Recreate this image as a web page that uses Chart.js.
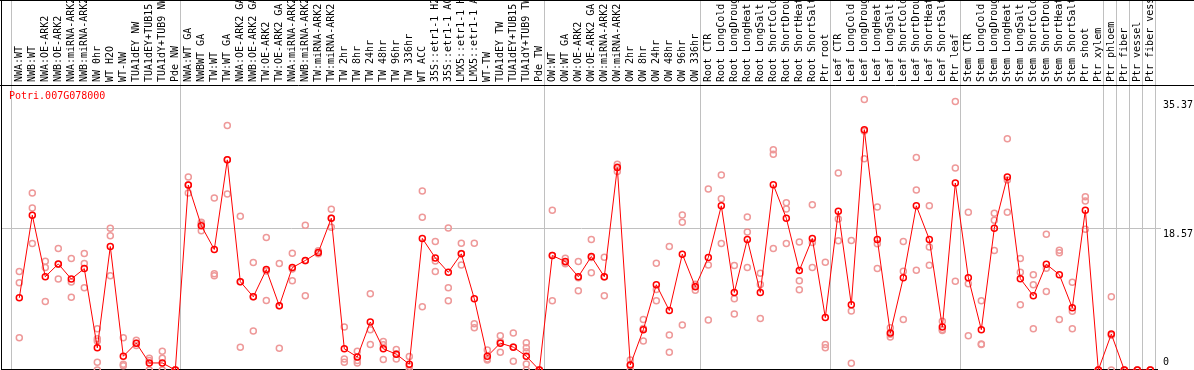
<!DOCTYPE html>
<html>
<head>
<meta charset="utf-8">
<script src="https://cdn.jsdelivr.net/npm/chart.js@4.4.1/dist/chart.umd.min.js"></script>
<style>
  html, body { margin: 0; padding: 0; background: #fff; }
  #wrap { width: 1194px; height: 370px; }
</style>
</head>
<body>
<div id="wrap"><canvas id="myChart" width="1194" height="370"></canvas></div>
<script>
// gene shown in the panel
let geneName = 'Potri.007G078000';

// sample names, left to right
let categories = [
  'NWA:WT', 'NWB:WT', 'NWA:OE-ARK2', 'NWB:OE-ARK2', 'NWA:miRNA-ARK2', 'NWB:miRNA-ARK2',
  'NW 0hr', 'WT H2O', 'WT-NW', 'TUA1dEY NW', 'TUA1dEY+TUB15 NW', 'TUA1dY+TUB9 NW', 'Pde NW',
  'NWA:WT GA', 'NWBWT GA', 'TW:WT', 'TW:WT GA', 'NWA:OE-ARK2 GA', 'NWB:OE-ARK2 GA',
  'TW:OE-ARK2', 'TW:OE-ARK2 GA', 'NWA:miRNA-ARK2', 'NWB:miRNA-ARK2', 'TW:miRNA-ARK2', 'TW:miRNA-ARK2',
  'TW 2hr', 'TW 8hr', 'TW 24hr', 'TW 48hr', 'TW 96hr', 'TW 336hr', 'WT ACC',
  '35S::etr1-1 H2O', '35S::etr1-1 ACC', 'LMX5::etr1-1 H2O', 'LMX5::etr1-1 ACC',
  'WT-TW', 'TUA1dEY TW', 'TUA1dEY+TUB15 TW', 'TUA1dY+TUB9 TW', 'Pde TW',
  'OW:WT', 'OW:WT GA', 'OW:OE-ARK2', 'OW:OE-ARK2 GA', 'OW:miRNA-ARK2', 'OW:miRNA-ARK2',
  'OW 2hr', 'OW 8hr', 'OW 24hr', 'OW 48hr', 'OW 96hr', 'OW 336hr',
  'Root CTR', 'Root LongCold', 'Root LongDrought', 'Root LongHeat', 'Root LongSalt',
  'Root ShortCold', 'Root ShortDrought', 'Root ShortHeat', 'Root ShortSalt', 'Ptr root',
  'Leaf CTR', 'Leaf LongCold', 'Leaf LongDrought', 'Leaf LongHeat', 'Leaf LongSalt',
  'Leaf ShortCold', 'Leaf ShortDrought', 'Leaf ShortHeat', 'Leaf ShortSalt', 'Ptr leaf',
  'Stem CTR', 'Stem LongCold', 'Stem LongDrought', 'Stem LongHeat', 'Stem LongSalt',
  'Stem ShortCold', 'Stem ShortDrought', 'Stem ShortHeat', 'Stem ShortSalt', 'Ptr shoot',
  'Ptr xylem', 'Ptr phloem', 'Ptr fiber', 'Ptr vessel', 'Ptr fiber vessel'
];

// mean expression per sample (red line)
let means = [
  9.44, 20.24, 12.2, 13.87, 11.9, 13.26, 2.9, 16.15, 1.8, 3.51, 0.92, 0.92, 0,
  24.19, 18.87, 15.76, 27.48, 11.55, 9.57, 13.13, 8.39, 13.39, 14.32, 15.37, 19.85,
  2.77, 1.71, 6.28, 2.77, 2.07, 0.75, 17.21, 14.66, 12.77, 15.19, 9.31, 1.8, 3.51, 2.99, 1.8, 0,
  14.97, 14.18, 12.2, 14.84, 12.2, 26.47, 0.66, 5.27, 11.15, 7.77, 15.15, 10.89,
  14.71, 21.47, 10.14, 17.08, 10.14, 24.23, 19.85, 13.0, 17.21, 6.85,
  20.77, 8.52, 31.43, 17.08, 4.83, 12.07, 21.47, 17.08, 5.62, 24.45,
  12.07, 5.27, 18.53, 25.25, 11.94, 9.7, 13.83, 12.47, 8.13, 20.9,
  0, 4.7, 0, 0, 0
];

// individual replicates per sample (pink circles)
let replicates = [
  [12.87, 11.42, 4.21], [23.14, 21.2, 16.55], [14.22, 13.39, 8.96], [15.89, 13.82, 11.9],
  [14.58, 11.5, 9.53], [15.24, 13.92, 10.76], [5.4, 4.08, 3.78, 1.01, 0], [18.53, 17.56, 12.34],
  [4.21, 0.75, 0.57], [3.9, 3.5, 3.2], [1.54, 1.23, 0], [2.46, 1.54, 0], [0, 0, 0],
  [25.25, 24.18, 23.14], [19.32, 19.1, 18.2], [22.48, 12.6, 12.34], [31.96, 27.48, 23.0],
  [20.11, 11.55, 2.99], [14.05, 9.57, 5.09], [17.34, 12.96, 9.09], [13.92, 8.39, 2.86],
  [15.28, 13.2, 11.68], [18.92, 14.3, 9.7], [15.6, 15.3, 15.2], [21.03, 19.86, 18.66],
  [5.62, 1.45, 1.01], [2.46, 1.23, 0.92], [9.97, 5.27, 3.34], [3.73, 3.3, 1.36],
  [2.68, 2.1, 1.45], [1.76, 0.5, 0], [23.4, 19.98, 8.26], [16.82, 14.27, 12.87],
  [18.57, 10.76, 9.05], [16.59, 15.24, 13.74], [16.59, 6.06, 5.53], [2.63, 1.45, 1.32],
  [4.48, 3.7, 2.33], [4.83, 3.0, 1.14], [3.56, 2.9, 2.4, 0.8, 0], [0, 0, 0],
  [20.9, 14.96, 9.05], [14.6, 14.0, 13.9], [14.18, 12.07, 10.36], [17.08, 14.7, 12.73],
  [14.75, 12.15, 9.7], [26.9, 26.56, 25.95], [1.32, 0.66, 0], [6.59, 5.44, 3.78],
  [13.96, 10.54, 9.05], [16.16, 4.57, 2.33], [20.28, 19.32, 5.89], [11.23, 11.0, 10.44],
  [23.67, 13.74, 6.54], [25.51, 22.39, 16.55], [13.65, 9.31, 7.33], [20.02, 18.04, 13.39],
  [12.64, 11.19, 6.72], [28.8, 28.22, 15.89], [21.86, 21.07, 16.55], [16.73, 11.68, 10.5],
  [21.6, 16.68, 13.39], [14.09, 3.34, 2.9],
  [25.77, 19.75, 16.9], [16.95, 7.73, 0.88], [35.37, 31.25, 27.62], [21.3, 16.51, 13.26],
  [5.53, 4.66, 4.3], [16.82, 12.91, 6.59], [27.79, 23.53, 13.04], [21.47, 16.07, 13.7],
  [6.37, 5.3, 5.18], [35.1, 26.43, 11.59],
  [20.64, 11.29, 4.48], [9.05, 3.4, 3.35], [20.5, 19.58, 15.63], [30.25, 24.86, 20.64],
  [14.58, 12.77, 8.52], [12.47, 11.15, 5.4], [17.74, 13.3, 10.27], [15.67, 15.32, 6.59],
  [11.46, 7.68, 5.4], [22.65, 22.09, 18.4],
  [0, 0, 0], [9.57, 4.53, 0], [0, 0, 0], [0, 0, 0], [0, 0, 0]
];

// last sample of each group (a divider follows it)
let groupEnds = [-1, 12, 40, 52, 62, 72, 83, 84, 85, 86, 87];

// value axis labels
let yTicks = [0, 18.57, 35.37];
let yTickLabels = ['0', '18.57', '35.37'];

let monoFont = 'DejaVu Sans Mono';

let meanPoints = means.map((v, i) => ({ x: i, y: v }));
let repPoints = [];
replicates.forEach((list, i) => list.forEach(v => repPoints.push({ x: i, y: v })));

// dividers, frame and texts
let framePlugin = {
  id: 'frame',
  beforeDatasetsDraw(chart) {
    let ctx = chart.ctx;
    let xs = chart.scales.x, ys = chart.scales.y;
    let area = chart.chartArea;
    ctx.save();
    ctx.lineWidth = 1;
    ctx.strokeStyle = '#c0c0c0';
    groupEnds.forEach(g => {
      let px = Math.round(xs.getPixelForValue(g + 0.385)) + 0.5;
      ctx.beginPath();
      ctx.moveTo(px, 0);
      ctx.lineTo(px, chart.height);
      ctx.stroke();
    });
    yTicks.slice(1, -1).forEach(v => {
      let py = Math.round(ys.getPixelForValue(v)) + 0.5;
      ctx.beginPath();
      ctx.moveTo(area.left, py);
      ctx.lineTo(area.right + 3, py);
      ctx.stroke();
    });
    ctx.strokeStyle = '#000';
    ctx.beginPath();
    ctx.moveTo(0, 0.5); ctx.lineTo(chart.width, 0.5);
    ctx.moveTo(0, area.top + 0.5); ctx.lineTo(chart.width, area.top + 0.5);
    ctx.moveTo(area.left - 0.5, 0); ctx.lineTo(area.left - 0.5, chart.height);
    ctx.moveTo(area.left, chart.height - 0.5); ctx.lineTo(area.right, chart.height - 0.5);
    ctx.stroke();
    ctx.restore();
  },
  afterDraw(chart) {
    let ctx = chart.ctx;
    let ys = chart.scales.y;
    let area = chart.chartArea;
    ctx.save();
    ctx.font = '10px "' + monoFont + '"';
    ctx.textBaseline = 'middle';
    ctx.textAlign = 'left';
    ctx.fillStyle = '#ff0000';
    ctx.fillText(geneName, 9, area.top + 11.5);
    ctx.fillStyle = '#000';
    yTicks.forEach((v, i) => {
      let py = ys.getPixelForValue(v);
      py += v === 0 ? -8 : 6;
      ctx.fillText(yTickLabels[i], area.right + 5, py);
    });
    ctx.restore();
  }
};

let ctx = document.getElementById('myChart').getContext('2d');
let chart = new Chart(ctx, {
  type: 'line',
  data: {
    datasets: [{
      label: 'mean',
      data: meanPoints,
      borderColor: '#ff0000',
      borderWidth: 1,
      tension: 0,
      pointRadius: 3,
      pointBorderWidth: 1.5,
      pointBorderColor: '#ff0000',
      pointBackgroundColor: 'rgba(0,0,0,0)'
    }, {
      label: 'replicates',
      type: 'scatter',
      data: repPoints,
      showLine: false,
      pointRadius: 3,
      pointBorderWidth: 1.5,
      pointBorderColor: '#ee9999',
      pointBackgroundColor: 'rgba(0,0,0,0)'
    }]
  },
  options: {
    responsive: false,
    animation: false,
    devicePixelRatio: 1,
    layout: { autoPadding: false, padding: { left: 2, right: 0, top: 0, bottom: 0 } },
    plugins: { legend: { display: false }, tooltip: { enabled: false } },
    scales: {
      x: {
        type: 'linear',
        position: 'top',
        min: -1.331,
        max: 87.59,
        afterBuildTicks: s => { s.ticks = categories.map((c, i) => ({ value: i })); },
        afterFit: s => { s.height = 85; },
        grid: { display: false, drawTicks: false },
        border: { display: false },
        ticks: {
          autoSkip: false,
          minRotation: 90,
          maxRotation: 90,
          padding: 3,
          labelOffset: 12,
          color: '#000',
          font: { family: monoFont, size: 10 },
          callback: v => categories[v]
        }
      },
      y: {
        type: 'linear',
        position: 'right',
        min: 0,
        max: 37.27,
        afterFit: s => { s.width = 36; },
        grid: { display: false },
        border: { display: false },
        ticks: { display: false }
      }
    }
  },
  plugins: [framePlugin]
});
</script>
</body>
</html>
